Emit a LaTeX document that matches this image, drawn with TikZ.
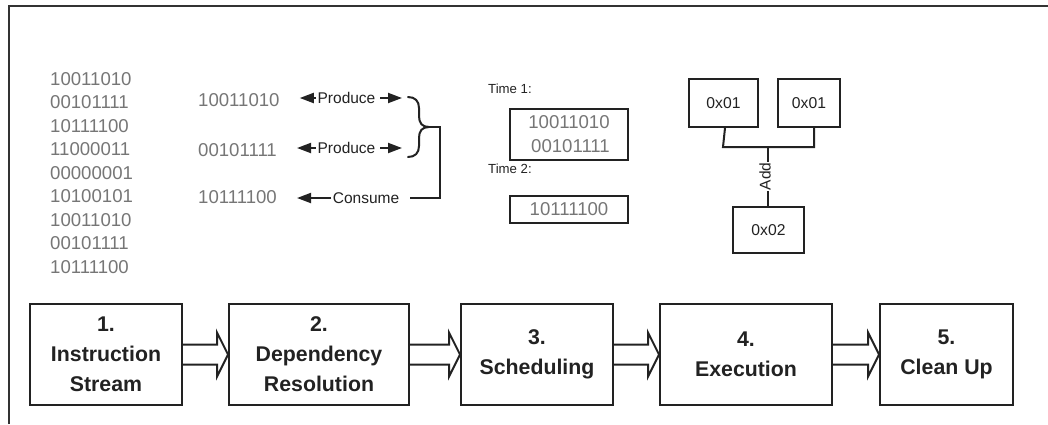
\documentclass[tikz,border=0pt]{standalone}
\usepackage{fontspec}
\setmainfont{Liberation Sans}
\usetikzlibrary{arrows.meta,calc}
\definecolor{ink}{RGB}{34,34,34}
\definecolor{bits}{RGB}{118,118,118}
\definecolor{framec}{RGB}{51,51,51}
\begin{document}
\begin{tikzpicture}[x=1pt,y=-1pt,
  bitfont/.style={font=\fontsize{18.6}{24}\selectfont, text=bits, inner sep=0pt},
  lbl/.style={font=\fontsize{15.5}{18}\selectfont, text=ink, inner sep=1.5pt, fill=white},
  timelbl/.style={font=\fontsize{13.2}{15}\selectfont, text=ink, inner sep=0pt, anchor=west},
  regbox/.style={draw=ink, line width=2pt, font=\fontsize{15.7}{18}\selectfont, text=ink, inner sep=0pt},
  bitbox/.style={draw=ink, line width=2pt, font=\fontsize{18.6}{24}\selectfont, text=bits, align=center, inner sep=0pt, minimum width=118pt},
  stage/.style={draw=ink, line width=2pt, align=center, font=\bfseries\fontsize{21.3}{30}\selectfont, text=ink, minimum height=101pt, inner sep=0pt},
  hollow/.style={draw=ink, line width=2pt, line join=miter},
  wire/.style={draw=ink, line width=2pt},
  tip/.style={draw=ink, line width=2pt, -{Triangle[length=14pt,width=10pt]}}
]
\useasboundingbox (0,0) rectangle (1048,424);

% outer frame
\draw[framec, line width=2pt] (9,424) -- (9,6) -- (1048,6);

% instruction stream column
\foreach \w [count=\k] in {10011010,00101111,10111100,11000011,00000001,10100101,10011010,00101111,10111100}{
  \node[bitfont, anchor=base west] (s\k) at (50,{85+23.5*(\k-1)}) {\w};
}

% dependency resolution
\node[bitfont, anchor=base west] (m1) at (198,106) {10011010};
\node[bitfont, anchor=base west] (m2) at (198,156) {00101111};
\node[bitfont, anchor=base west] (m3) at (198,203) {10111100};

\node[lbl] (p1) at (346.5,98) {Produce};
\node[lbl] (p2) at (346.5,148) {Produce};
\node[lbl] (c) at (366,198) {Consume};

\coordinate (q1) at (402,98);
\coordinate (q2) at (402,148);
\coordinate (brt) at (429,127);
\coordinate (k1) at (440,127);
\coordinate (k2) at (440,198);

\draw[tip] (p1.west) -- (p1.west -| m1.east) [shorten >=20pt];
\draw[tip] ([xshift=3pt]p1.east) -- (q1);
\draw[tip] (p2.west) -- (p2.west -| m2.east) [shorten >=20pt];
\draw[tip] ([xshift=3pt]p2.east) -- (q2);

% brace gathering both producers
\draw[wire, line cap=round] (408,97) .. controls (415,97) and (419,101) .. (419,108) -- (419,116)
  .. controls (419,123) and (422,127) .. (brt)
  .. controls (422,127) and (419,131) .. (419,138) -- (419,146)
  .. controls (419,153) and (415,157) .. (408,157);

\draw[wire] (brt) -- (k1) -- (k2) -- ([xshift=9pt]c.east |- k2);
\draw[tip] (c.west) -- (c.west -| m3.east) [shorten >=20pt];

% scheduling
\node[timelbl] (t1) at (488,89) {Time 1:};
\node[bitbox, minimum height=51pt] (tb1) at (569,134.5) {10011010\\[0pt]\hspace*{3pt}00101111};
\node[timelbl] (t2) at (488,169) {Time 2:};
\node[bitbox, minimum height=27pt] (tb2) at (569,209.5) {10111100};

% execution
\node[regbox, minimum width=69pt, minimum height=48pt] (ra) at (723.5,103) {0x01};
\node[regbox, minimum width=62pt, minimum height=48pt] (rb) at (809,103) {0x01};
\node[regbox, minimum width=71pt, minimum height=46pt] (rc) at (768.5,230) {0x02};
\coordinate (j) at (768,147);
\draw[wire] ([xshift=1.5pt]ra.south) -- ([xshift=-0.5pt]ra.south |- j) -- ([xshift=5pt]rb.south |- j) -- ([xshift=5pt]rb.south);
\draw[wire] (j) -- (j |- rc.north) coordinate[midway] (addmid);
\node[lbl, rotate=90, inner sep=1pt] (add) at ([xshift=-3pt]addmid) {Add};

% pipeline stages
\node[stage, minimum width=152pt] (b1) at (106,354.5) {1.\\Instruction\\Stream};
\node[stage, minimum width=180pt] (b2) at (319,354.5) {2.\\Dependency\\Resolution};
\node[stage, minimum width=152pt] (b3) at (537,354.5) {3.\\Scheduling};
\node[stage, minimum width=172pt] (b4) at (746,354.5) {4.\\Execution};
\node[stage, minimum width=133pt] (b5) at (946.5,354.5) {5.\\Clean Up};

\foreach \s/\t in {b1/b2,b2/b3,b3/b4,b4/b5}{
  \draw[hollow] ([yshift=10pt]\s.east) -- ([xshift=-11pt,yshift=10pt]\t.west)
    -- ([xshift=-11pt,yshift=22pt]\t.west) -- (\t.west)
    -- ([xshift=-11pt,yshift=-22pt]\t.west) -- ([xshift=-11pt,yshift=-10pt]\t.west)
    -- ([yshift=-10pt]\s.east);
}
\end{tikzpicture}
\end{document}
